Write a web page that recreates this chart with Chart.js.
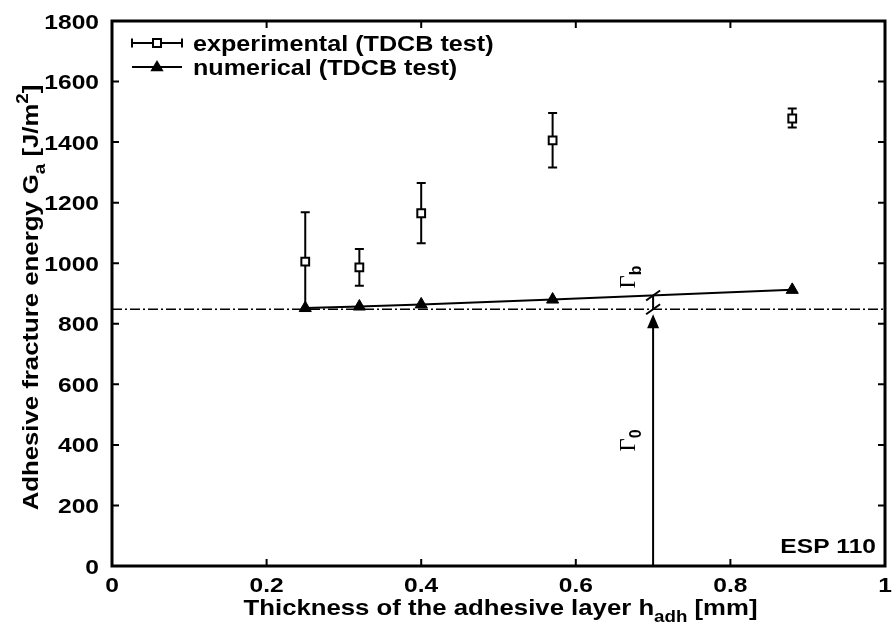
<!DOCTYPE html>
<html>
<head>
<meta charset="utf-8">
<script src="https://cdn.jsdelivr.net/npm/chart.js@4.4.1/dist/chart.umd.min.js"></script>
<style>
  html, body { margin: 0; padding: 0; background: #fff; }
  #wrap { width: 893px; height: 626px; }
</style>
</head>
<body>
<div id="wrap"><canvas id="energyChart" width="893" height="626"></canvas></div>
<script>
// adhesive layer thickness [mm]
const thickness = [0.25, 0.32, 0.40, 0.57, 0.88];
// TDCB test, measured fracture energy and scatter
const expMean = [1005, 986, 1165, 1406, 1478];
const expLow  = [842, 926, 1066, 1316, 1448];
const expHigh = [1168, 1047, 1265, 1496, 1511];
// TDCB test, simulation
const numValues = [852, 857, 864, 880, 912];

const xTicks = [0, 0.2, 0.4, 0.6, 0.8, 1];
const yTicks = [0, 200, 400, 600, 800, 1000, 1200, 1400, 1600, 1800];

// intrinsic toughness level and the thickness where Gamma_0 / Gamma_b are marked
const gamma0 = 848;
const gammaX = 0.7;

const FONT = '"Liberation Sans", Arial, sans-serif';
const SX = 1.17; // the labels use a wide bold face

// y of the numerical curve at a given thickness (straight segments between points)
function numAt(x) {
  for (let i = 0; i < thickness.length - 1; i++) {
    if (x >= thickness[i] && x <= thickness[i + 1]) {
      const t = (x - thickness[i]) / (thickness[i + 1] - thickness[i]);
      return numValues[i] + t * (numValues[i + 1] - numValues[i]);
    }
  }
  return numValues[numValues.length - 1];
}

function wideText(ctx, str, x, y, size, align, baseline) {
  ctx.save();
  ctx.translate(x, y);
  ctx.scale(SX, 1);
  ctx.font = 'bold ' + size + 'px ' + FONT;
  ctx.textAlign = align;
  ctx.textBaseline = baseline || 'alphabetic';
  ctx.fillText(str, 0, 0);
  ctx.restore();
}

// text with subscript / superscript parts, centred on x
function drawRich(ctx, parts, x, y, size) {
  const small = Math.round(size * 0.72);
  ctx.save();
  ctx.translate(x, y);
  ctx.scale(SX, 1);
  let total = 0;
  parts.forEach(p => {
    ctx.font = 'bold ' + (p[1] ? small : size) + 'px ' + FONT;
    total += ctx.measureText(p[0]).width;
  });
  let cx = -total / 2;
  ctx.textAlign = 'left';
  ctx.textBaseline = 'alphabetic';
  parts.forEach(p => {
    ctx.font = 'bold ' + (p[1] ? small : size) + 'px ' + FONT;
    let dy = 0;
    if (p[1] === 'sub') dy = size * 0.3;
    if (p[1] === 'sup') dy = -size * 0.45;
    ctx.fillText(p[0], cx, dy);
    cx += ctx.measureText(p[0]).width;
  });
  ctx.restore();
}

function triangle(ctx, x, y, r) {
  ctx.beginPath();
  ctx.moveTo(x, y - r);
  ctx.lineTo(x + r * 0.95, y + r * 0.6);
  ctx.lineTo(x - r * 0.95, y + r * 0.6);
  ctx.closePath();
  ctx.fill();
}

const decorations = {
  id: 'decorations',
  beforeDatasetsDraw(chart) {
    const ctx = chart.ctx;
    const xs = chart.scales.x, ys = chart.scales.y;
    const a = chart.chartArea;
    ctx.save();
    ctx.strokeStyle = '#000';
    ctx.fillStyle = '#000';

    // dash-dot reference level
    const yl = ys.getPixelForValue(gamma0);
    ctx.lineWidth = 1.3;
    ctx.setLineDash([10, 3, 2, 3]);
    ctx.beginPath();
    ctx.moveTo(a.left, yl);
    ctx.lineTo(a.right, yl);
    ctx.stroke();
    ctx.setLineDash([]);

    // error bars
    ctx.lineWidth = 2;
    thickness.forEach((t, i) => {
      const px = xs.getPixelForValue(t);
      const y1 = ys.getPixelForValue(expLow[i]);
      const y2 = ys.getPixelForValue(expHigh[i]);
      ctx.beginPath();
      ctx.moveTo(px, y1); ctx.lineTo(px, y2);
      ctx.moveTo(px - 4.5, y2); ctx.lineTo(px + 4.5, y2);
      ctx.moveTo(px - 4.5, y1); ctx.lineTo(px + 4.5, y1);
      ctx.stroke();
    });

    // Gamma_0 arrow up to the reference level, break marks, Gamma_b gap
    const gx = xs.getPixelForValue(gammaX);
    const yb = ys.getPixelForValue(numAt(gammaX));
    const y0 = ys.getPixelForValue(0);
    ctx.lineWidth = 2;
    ctx.beginPath();
    ctx.moveTo(gx, y0);
    ctx.lineTo(gx, yl + 15);
    ctx.moveTo(gx, yl);
    ctx.lineTo(gx, yb);
    ctx.stroke();
    ctx.beginPath();
    ctx.moveTo(gx, yl + 5);
    ctx.lineTo(gx - 6, yl + 19);
    ctx.lineTo(gx + 6, yl + 19);
    ctx.closePath();
    ctx.fill();
    [yl, yb].forEach(yy => {
      ctx.beginPath();
      ctx.moveTo(gx - 7, yy + 5);
      ctx.lineTo(gx + 7, yy - 5);
      ctx.stroke();
    });

    // rotated Gamma labels
    [['0', (y0 + yl) / 2 + 14], ['b', yb - 7]].forEach(([sub, ys0]) => {
      ctx.save();
      ctx.translate(gx - 18, ys0);
      ctx.rotate(-Math.PI / 2);
      ctx.textAlign = 'left';
      ctx.textBaseline = 'alphabetic';
      ctx.font = '23px "Liberation Serif", "DejaVu Serif", serif';
      ctx.fillText('\u0393', 0, 0);
      const w = ctx.measureText('\u0393').width;
      ctx.font = 'bold 16px ' + FONT;
      ctx.fillText(sub, w, 6);
      ctx.restore();
    });
    ctx.restore();
  },
  afterDraw(chart) {
    const ctx = chart.ctx;
    const xs = chart.scales.x, ys = chart.scales.y;
    const a = chart.chartArea;
    ctx.save();
    ctx.strokeStyle = '#000';
    ctx.fillStyle = '#000';

    // inward ticks on all four sides, with labels on bottom and left
    ctx.lineWidth = 2;
    xTicks.forEach(v => {
      const px = xs.getPixelForValue(v);
      ctx.beginPath();
      ctx.moveTo(px, a.bottom); ctx.lineTo(px, a.bottom - 7);
      ctx.moveTo(px, a.top); ctx.lineTo(px, a.top + 7);
      ctx.stroke();
      wideText(ctx, String(v), px, a.bottom + 26, 21, 'center');
    });
    yTicks.forEach(v => {
      const py = ys.getPixelForValue(v);
      ctx.beginPath();
      ctx.moveTo(a.left, py); ctx.lineTo(a.left + 7, py);
      ctx.moveTo(a.right, py); ctx.lineTo(a.right - 7, py);
      ctx.stroke();
      wideText(ctx, String(v), a.left - 13, py + 7.5, 21, 'right');
    });

    // frame
    ctx.lineWidth = 3;
    ctx.strokeRect(a.left, a.top, a.right - a.left, a.bottom - a.top);

    // legend
    const lx = a.left + 20, lt = a.left + 81;
    ctx.lineWidth = 2;
    let ly = a.top + 22;
    ctx.beginPath();
    ctx.moveTo(lx, ly); ctx.lineTo(lx + 50, ly);
    ctx.moveTo(lx, ly - 4.5); ctx.lineTo(lx, ly + 4.5);
    ctx.moveTo(lx + 50, ly - 4.5); ctx.lineTo(lx + 50, ly + 4.5);
    ctx.stroke();
    ctx.fillStyle = '#fff';
    ctx.fillRect(lx + 21, ly - 4, 8, 8);
    ctx.strokeRect(lx + 21, ly - 4, 8, 8);
    ctx.fillStyle = '#000';
    wideText(ctx, 'experimental (TDCB test)', lt, ly + 7.5, 21.5, 'left');
    ly += 24;
    ctx.beginPath();
    ctx.moveTo(lx, ly); ctx.lineTo(lx + 50, ly);
    ctx.stroke();
    triangle(ctx, lx + 25, ly, 7);
    wideText(ctx, 'numerical (TDCB test)', lt, ly + 7.5, 21.5, 'left');

    // material label
    wideText(ctx, 'ESP 110', a.right - 9, a.bottom - 13, 21, 'right');

    // axis titles
    drawRich(ctx, [['Thickness of the adhesive layer h', ''], ['adh', 'sub'], [' [mm]', '']],
      (a.left + a.right) / 2 + 2, 615, 22);
    ctx.save();
    ctx.translate(38, (a.top + a.bottom) / 2 + 4);
    ctx.rotate(-Math.PI / 2);
    drawRich(ctx, [['Adhesive fracture energy G', ''], ['a', 'sub'], [' [J/m', ''], ['2', 'sup'], [']', '']],
      0, 0, 22);
    ctx.restore();
    ctx.restore();
  }
};

new Chart(document.getElementById('energyChart'), {
  type: 'scatter',
  data: {
    datasets: [
      {
        label: 'numerical (TDCB test)',
        data: thickness.map((t, i) => ({ x: t, y: numValues[i] })),
        showLine: true,
        borderColor: '#000',
        borderWidth: 2,
        backgroundColor: '#000',
        pointStyle: 'triangle',
        pointRadius: 7,
        pointBorderWidth: 1
      },
      {
        label: 'experimental (TDCB test)',
        data: thickness.map((t, i) => ({ x: t, y: expMean[i] })),
        showLine: false,
        borderColor: '#000',
        backgroundColor: '#fff',
        pointStyle: 'rect',
        pointRadius: 5.5,
        pointBorderWidth: 2
      }
    ]
  },
  options: {
    responsive: false,
    animation: false,
    devicePixelRatio: 1,
    layout: { padding: { top: 21, right: 6, left: 0, bottom: 0 } },
    plugins: { legend: { display: false }, tooltip: { enabled: false } },
    scales: {
      x: {
        type: 'linear',
        min: 0, max: 1,
        afterBuildTicks: s => { s.ticks = xTicks.map(v => ({ value: v })); },
        afterFit: s => { s.height = 60; },
        grid: { display: false },
        border: { display: false },
        ticks: { display: false }
      },
      y: {
        type: 'linear',
        min: 0, max: 1800,
        afterBuildTicks: s => { s.ticks = yTicks.map(v => ({ value: v })); },
        afterFit: s => { s.width = 112; },
        grid: { display: false },
        border: { display: false },
        ticks: { display: false }
      }
    }
  },
  plugins: [decorations]
});
</script>
</body>
</html>
